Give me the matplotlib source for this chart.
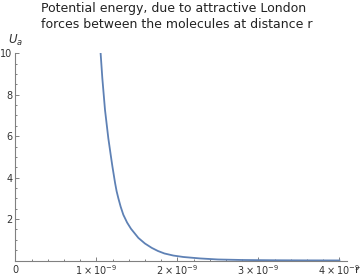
import numpy as np
import matplotlib.pyplot as plt
from matplotlib.ticker import MultipleLocator

# values (r in units of 1e-9 m)
r = [1.053, 1.074, 1.107, 1.148, 1.181, 1.198, 1.231, 1.25, 1.272, 1.30, 1.333, 1.38, 1.428,
     1.519, 1.600, 1.684, 1.760, 1.840, 1.950, 2.074, 2.28, 2.5, 2.8, 3.2, 3.6, 4.0]
Ua = [10.0, 8.8, 7.27, 5.9, 5.0, 4.55, 3.75, 3.35, 3.0, 2.6, 2.21, 1.83, 1.53,
      1.09, 0.82, 0.61, 0.46, 0.34, 0.24, 0.17, 0.10, 0.05, 0.025, 0.012, 0.006, 0.003]
xticks = [1e-9, 2e-9, 3e-9, 4e-9]
xlabels = [r'$1\times10^{-9}$', r'$2\times10^{-9}$', r'$3\times10^{-9}$', r'$4\times10^{-9}$']
yticks = [2, 4, 6, 8, 10]

axcol = '#808080'
txtcol = '#333333'

fig = plt.figure(figsize=(3.6, 2.8), dpi=100)
ax = fig.add_axes([0.0425, 0.0696, 0.9206, 0.7400])
ax.plot(np.array(r)*1e-9, Ua, color='#5E81B5', lw=1.3, solid_joinstyle='round')
ax.set_xlim(0, 4.09e-9)
ax.set_ylim(0, 10)
for s in ['top', 'right']:
    ax.spines[s].set_visible(False)
for s in ['left', 'bottom']:
    ax.spines[s].set_color(axcol)
    ax.spines[s].set_linewidth(0.8)
ax.set_xticks(xticks)
ax.set_xticklabels(xlabels)
ax.set_yticks(yticks)
ax.xaxis.set_minor_locator(MultipleLocator(0.2e-9))
ax.yaxis.set_minor_locator(MultipleLocator(0.5))
ax.tick_params(which='both', direction='in', color=axcol, width=0.7,
               labelsize=7, labelcolor=txtcol, pad=2)
ax.tick_params(which='major', length=3)
ax.tick_params(which='minor', length=1.6)
ax.annotate('0', xy=(0, 0), xytext=(0, -3), textcoords='offset points',
            ha='center', va='top', fontsize=7, color=txtcol)
fig.text(355/360, 1-270/280, 'r', fontsize=8, color=txtcol, ha='left', va='center')
fig.text(8/360, 1-40/280, r'$U_a$', fontsize=8.5, color=txtcol, va='center', ha='left')
fig.text(41/360, 1-2/280, 'Potential energy, due to attractive London\nforces between the molecules at distance r',
         fontsize=9, color='#222222', va='top', ha='left', linespacing=1.25)
fig.savefig('out.png', dpi=100)
